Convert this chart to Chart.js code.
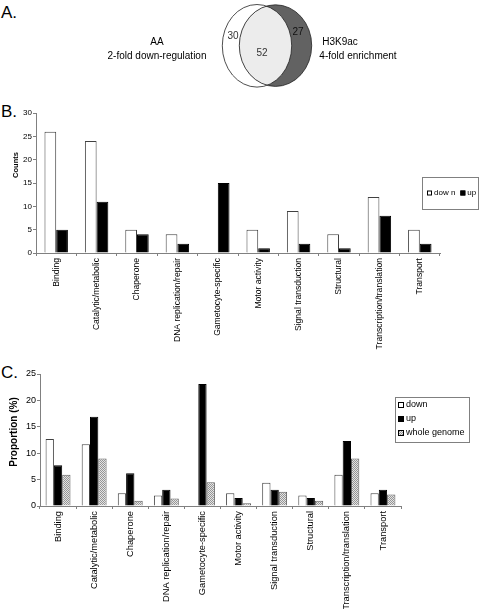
<!DOCTYPE html>
<html>
<head>
<meta charset="utf-8">
<script src="https://cdn.jsdelivr.net/npm/chart.js@4.4.0/dist/chart.umd.min.js"></script>
<style>
    body { margin: 0; background: #fff; font-family: 'Liberation Sans', Arial, sans-serif; }
    #page { position: relative; width: 481px; height: 609px; overflow: hidden; }
    .box { position: absolute; }
    .panel { position: absolute; font-size: 17px; line-height: 17px; color: #000; }
    .ytitle { position: absolute; font-weight: bold; white-space: nowrap; color: #000;
              transform: translate(-50%, -50%) rotate(-90deg); }
</style>
</head>
<body>
<div id="page">
    <div class="panel" style="left:1px; top:4px;">A.</div>
    <div class="panel" style="left:1px; top:103px;">B.</div>
    <div class="panel" style="left:1px; top:364px;">C.</div>

    <div class="box" style="left:0; top:0; width:481px; height:95px;"><canvas id="venn"></canvas></div>
    <div class="box" style="left:0; top:95px; width:481px; height:260px;"><canvas id="counts"></canvas></div>
    <div class="box" style="left:0; top:360px; width:481px; height:249px;"><canvas id="props"></canvas></div>

    <div class="ytitle" style="left:15px; top:165px; font-size:7.5px;">Counts</div>
    <div class="ytitle" style="left:13px; top:432px; font-size:10px;">Proportion (%)</div>
</div>

<script>
// data
const vennCounts = [30, 52, 27];
const vennLeft = ['AA', '2-fold down-regulation'];
const vennRight = ['H3K9ac', '4-fold enrichment'];

const categories = ['Binding', 'Catalytic/metabolic', 'Chaperone', 'DNA replication/repair',
    'Gametocyte-specific', 'Motor activity', 'Signal transduction', 'Structural',
    'Transcription/translation', 'Transport'];

const countDown = [26, 24, 5, 4, 0, 5, 9, 4, 12, 5];
const countUp = [5, 11, 4, 2, 15, 1, 2, 1, 8, 2];

const propDown = [12.7, 11.7, 2.4, 2.0, 0, 2.4, 4.4, 2.0, 5.9, 2.4];
const propUp = [7.7, 16.9, 6.2, 3.1, 23.1, 1.5, 3.1, 1.5, 12.3, 3.1];
const propGenome = [5.9, 9.0, 1.0, 1.4, 4.5, 0.5, 2.7, 1.0, 9.0, 2.2];

Chart.defaults.font.family = "'Liberation Sans', Arial, sans-serif";
Chart.defaults.color = '#000';
Chart.defaults.animation = false;
Chart.defaults.plugins.legend.display = false;
Chart.defaults.plugins.tooltip.enabled = false;

// dotted grey fill for the whole genome bars
function makeDots() {
    const c = document.createElement('canvas');
    c.width = 2; c.height = 2;
    const g = c.getContext('2d');
    g.fillStyle = '#e4e4e4'; g.fillRect(0, 0, 2, 2);
    g.fillStyle = '#959595'; g.fillRect(0, 0, 1, 1); g.fillRect(1, 1, 1, 1);
    return g.createPattern(c, 'repeat');
}
const dots = makeDots();

// legend in a grey box, like the original
const boxLegend = {
    id: 'boxLegend',
    afterDraw(chart, args, o) {
        const ctx = chart.ctx;
        ctx.save();
        ctx.strokeStyle = '#808080';
        ctx.lineWidth = 1;
        ctx.strokeRect(o.x + 0.5, o.y + 0.5, o.w, o.h);
        ctx.font = o.size + 'px ' + Chart.defaults.font.family;
        ctx.textBaseline = 'middle';
        let x = o.x + o.padX;
        let y = o.y + o.padY;
        chart.data.datasets.forEach(ds => {
            ctx.fillStyle = ds.backgroundColor;
            ctx.fillRect(x, y - o.sq / 2, o.sq, o.sq);
            ctx.strokeStyle = '#000';
            ctx.strokeRect(x + 0.5, y - o.sq / 2 + 0.5, o.sq - 1, o.sq - 1);
            ctx.fillStyle = '#000';
            ctx.fillText(ds.label, x + o.sq + 2, y);
            if (o.horizontal) {
                x += o.sq + 2 + ctx.measureText(ds.label).width + o.gap;
            } else {
                y += o.rowH;
            }
        });
        ctx.restore();
    }
};

function axes(max, yWidth, xHeight, tickSize, catSize) {
    return {
        x: {
            grid: { drawOnChartArea: false, offset: true, tickLength: 3, color: '#808080' },
            border: { color: '#808080' },
            ticks: { autoSkip: false, maxRotation: 90, minRotation: 90, padding: 2,
                     font: { size: catSize } },
            afterFit(scale) { scale.height = xHeight; }
        },
        y: {
            min: 0, max: max,
            grid: { drawOnChartArea: false, tickLength: 3, color: '#808080' },
            border: { color: '#808080' },
            ticks: { stepSize: 5, padding: 1, font: { size: tickSize } },
            afterFit(scale) { scale.width = yWidth; }
        }
    };
}

// A. venn
const vennDraw = {
    id: 'vennDraw',
    afterDraw(chart) {
        const ctx = chart.ctx;
        const sx = chart.scales.x, sy = chart.scales.y;
        const L = { x: sx.getPixelForValue(257), y: sy.getPixelForValue(45.8), rx: 34.7, ry: 41.3 };
        const R = { x: sx.getPixelForValue(275.5), y: sy.getPixelForValue(45.6), rx: 36.2, ry: 40.8 };
        const path = e => { ctx.beginPath(); ctx.ellipse(e.x, e.y, e.rx, e.ry, 0, 0, Math.PI * 2); };
        ctx.save();
        path(L); ctx.fillStyle = '#fff'; ctx.fill();
        path(R); ctx.fillStyle = '#626262'; ctx.fill();
        ctx.save(); path(L); ctx.clip(); path(R); ctx.fillStyle = '#ececec'; ctx.fill(); ctx.restore();
        ctx.strokeStyle = '#222'; ctx.lineWidth = 0.8;
        path(L); ctx.stroke(); path(R); ctx.stroke();

        ctx.textAlign = 'center'; ctx.textBaseline = 'middle';
        ctx.font = "10px 'Liberation Sans Narrow', 'Liberation Sans', sans-serif";
        ctx.fillStyle = '#333';
        ctx.fillText(vennCounts[0], sx.getPixelForValue(233), sy.getPixelForValue(36));
        ctx.fillText(vennCounts[1], sx.getPixelForValue(262), sy.getPixelForValue(53));
        ctx.fillStyle = '#111';
        ctx.fillText(vennCounts[2], sx.getPixelForValue(298), sy.getPixelForValue(32));

        ctx.font = "10px 'Liberation Sans', sans-serif";
        ctx.fillStyle = '#000';
        ctx.fillText(vennLeft[0], sx.getPixelForValue(157), sy.getPixelForValue(42));
        ctx.fillText(vennLeft[1], sx.getPixelForValue(157), sy.getPixelForValue(56));
        ctx.fillText(vennRight[0], sx.getPixelForValue(340), sy.getPixelForValue(42));
        ctx.fillText(vennRight[1], sx.getPixelForValue(358), sy.getPixelForValue(56));
        ctx.restore();
    }
};

new Chart(document.getElementById('venn'), {
    type: 'scatter',
    data: { datasets: [] },
    options: {
        responsive: true, maintainAspectRatio: false,
        layout: { padding: 0 },
        scales: {
            x: { type: 'linear', min: 0, max: 481, display: false },
            y: { type: 'linear', min: 0, max: 95, reverse: true, display: false }
        }
    },
    plugins: [vennDraw]
});

// B. counts
new Chart(document.getElementById('counts'), {
    type: 'bar',
    data: {
        labels: categories,
        datasets: [
            { label: 'dow n', data: countDown, backgroundColor: '#ffffff', borderColor: '#404040', borderWidth: 1 },
            { label: 'up', data: countUp, backgroundColor: '#000000', borderColor: '#000000', borderWidth: 1 }
        ]
    },
    options: {
        responsive: true, maintainAspectRatio: false,
        layout: { padding: { left: 0, right: 41, top: 18, bottom: 0 } },
        datasets: { bar: { categoryPercentage: 0.58, barPercentage: 1 } },
        scales: axes(30, 36, 102, 8, 8.6),
        plugins: {
            boxLegend: { x: 422, y: 82, w: 56, h: 32, padX: 5, padY: 16, sq: 5, size: 8,
                         horizontal: true, gap: 5 }
        }
    },
    plugins: [boxLegend]
});

// C. proportions
new Chart(document.getElementById('props'), {
    type: 'bar',
    data: {
        labels: categories,
        datasets: [
            { label: 'down', data: propDown, backgroundColor: '#ffffff', borderColor: '#404040', borderWidth: 1 },
            { label: 'up', data: propUp, backgroundColor: '#000000', borderColor: '#000000', borderWidth: 1 },
            { label: 'whole genome', data: propGenome, backgroundColor: dots, borderColor: '#606060', borderWidth: 1 }
        ]
    },
    options: {
        responsive: true, maintainAspectRatio: false,
        layout: { padding: { left: 0, right: 80, top: 14, bottom: 0 } },
        datasets: { bar: { categoryPercentage: 0.69, barPercentage: 1 } },
        scales: axes(25, 40, 103, 9, 9.3),
        plugins: {
            boxLegend: { x: 395, y: 37, w: 74, h: 45, padX: 3, padY: 8, sq: 6, size: 9,
                         horizontal: false, rowH: 14 }
        }
    },
    plugins: [boxLegend]
});
</script>
</body>
</html>
